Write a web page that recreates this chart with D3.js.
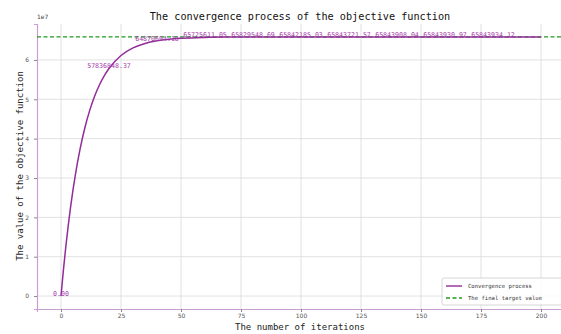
<!DOCTYPE html>
<html>
<head>
<meta charset="utf-8">
<script src="https://cdn.jsdelivr.net/npm/d3@7"></script>
<style>
  body { margin: 0; background: #fff; }
  text { font-family: "DejaVu Sans Mono", monospace; }
</style>
</head>
<body>
<div id="main"></div>
<script>
// iterations and objective values
const iterations = [0, 1, 2, 3, 4, 5, 6, 8, 10, 12, 14, 16, 18, 20, 25, 30, 35, 40, 45, 50,
  60, 70, 80, 90, 100, 110, 120, 130, 140, 150, 160, 170, 180, 190, 200];
const objective = [0, 6584393, 12510348, 17843706, 22643729, 26963750, 30851772, 37500349,
  42885395, 47247393, 50780667, 53642604, 55960773, 57836848.37, 61117000, 63052700,
  64195700, 64870694.18, 65269230, 65504575, 65725611.05, 65802695, 65829548.69,
  65838858, 65842185.03, 65843315, 65843721.57, 65843870, 65843908.04, 65843925,
  65843930.97, 65843933, 65843934.12, 65843934.4, 65843934.48];
const annotatedIters = [0, 20, 40, 60, 80, 100, 120, 140, 160, 180];
const finalTarget = 65843934.48;
const xTicks = [0, 25, 50, 75, 100, 125, 150, 175, 200];
const yTicks = [0, 1e7, 2e7, 3e7, 4e7, 5e7, 6e7];

const ctx = {width: 561, height: 334, left: 37, right: 565, top: 24, bottom: 309};

const svg = d3.select("#main").append("svg")
  .attr("width", ctx.width)
  .attr("height", ctx.height);

const x = d3.scaleLinear().domain([-10, 210]).range([ctx.left, ctx.right]);
const y = d3.scaleLinear().domain([-0.329e7, 6.913e7]).range([ctx.bottom, ctx.top]);

// grid
svg.append("g").selectAll("line").data(xTicks).enter().append("line")
  .attr("x1", d => x(d)).attr("x2", d => x(d))
  .attr("y1", ctx.top).attr("y2", ctx.bottom)
  .attr("stroke", "#d9d9d9").attr("stroke-width", 0.8);
svg.append("g").selectAll("line").data(yTicks).enter().append("line")
  .attr("y1", d => y(d)).attr("y2", d => y(d))
  .attr("x1", ctx.left).attr("x2", ctx.right)
  .attr("stroke", "#d9d9d9").attr("stroke-width", 0.8);

// axes
const xAxis = svg.append("g")
  .attr("transform", "translate(0," + ctx.bottom + ")")
  .call(d3.axisBottom(x).tickValues(xTicks).tickSize(3).tickPadding(2));
const yAxis = svg.append("g")
  .attr("transform", "translate(" + ctx.left + ",0)")
  .call(d3.axisLeft(y).tickValues(yTicks).tickSize(3).tickPadding(5).tickFormat(d => d / 1e7));
[xAxis, yAxis].forEach(a => {
  a.select(".domain").attr("stroke", "#c79fd0").attr("stroke-width", 1.2);
  a.selectAll(".tick line").attr("stroke", "#888");
  a.selectAll(".tick text").attr("fill", "#555").style("font-size", "6px")
    .style("font-family", "DejaVu Sans, sans-serif");
});

svg.append("text").attr("x", ctx.left).attr("y", 19)
  .style("font-size", "6px").style("font-family", "DejaVu Sans, sans-serif")
  .attr("fill", "#444").text("1e7");

// final target
svg.append("line")
  .attr("x1", ctx.left).attr("x2", ctx.right)
  .attr("y1", y(finalTarget)).attr("y2", y(finalTarget))
  .attr("stroke", "#1f9a1f").attr("stroke-width", 1.3)
  .attr("stroke-dasharray", "4,2.5");

// curve
const pts = iterations.map((d, i) => [d, objective[i]]);
svg.append("path")
  .datum(pts)
  .attr("fill", "none")
  .attr("stroke", "#922c98")
  .attr("stroke-width", 1.5)
  .attr("d", d3.line().x(d => x(d[0])).y(d => y(d[1])).curve(d3.curveMonotoneX));

// annotations
svg.append("g").selectAll("text").data(annotatedIters).enter().append("text")
  .attr("x", d => x(d))
  .attr("y", d => y(objective[iterations.indexOf(d)]))
  .attr("text-anchor", "middle")
  .style("font-size", "6.6px")
  .attr("fill", "#a43aa8")
  .text(d => objective[iterations.indexOf(d)].toFixed(2));

// title & labels
svg.append("text").attr("x", 300).attr("y", 20).attr("text-anchor", "middle")
  .style("font-size", "10.2px").attr("fill", "#111")
  .text("The convergence process of the objective function");
svg.append("text").attr("x", 300).attr("y", 330).attr("text-anchor", "middle")
  .style("font-size", "9px").attr("fill", "#222")
  .text("The number of iterations");
svg.append("text").attr("transform", "translate(23,166) rotate(-90)")
  .attr("text-anchor", "middle")
  .style("font-size", "9px").attr("fill", "#222")
  .text("The value of the objective function");

// legend
const lg = svg.append("g").attr("transform", "translate(442,278)");
lg.append("rect").attr("width", 122).attr("height", 27).attr("rx", 2)
  .attr("fill", "#fff").attr("fill-opacity", 0.85)
  .attr("stroke", "#ccc").attr("stroke-width", 0.8);
lg.append("line").attr("x1", 4).attr("x2", 20).attr("y1", 8).attr("y2", 8)
  .attr("stroke", "#922c98").attr("stroke-width", 1.4);
lg.append("line").attr("x1", 4).attr("x2", 20).attr("y1", 20).attr("y2", 20)
  .attr("stroke", "#1f9a1f").attr("stroke-width", 1.3).attr("stroke-dasharray", "4,2.5");
lg.append("text").attr("x", 26).attr("y", 10).style("font-size", "5.6px").attr("fill", "#333")
  .text("Convergence process");
lg.append("text").attr("x", 26).attr("y", 22).style("font-size", "5.6px").attr("fill", "#333")
  .text("The final target value");
</script>
</body>
</html>
